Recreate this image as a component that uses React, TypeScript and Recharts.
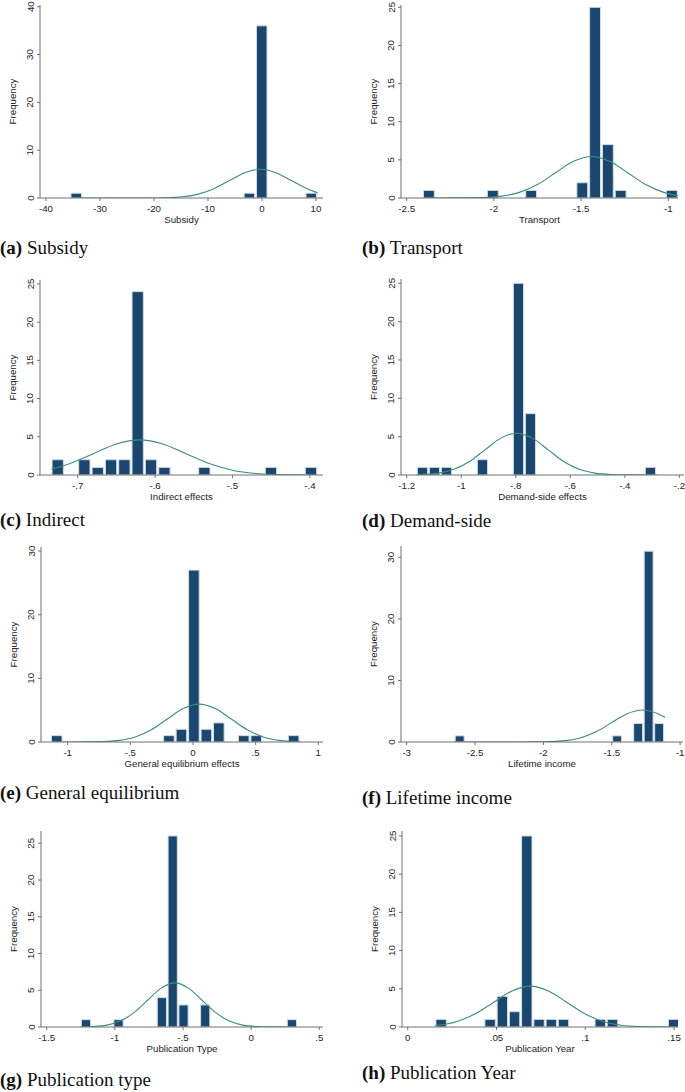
import React from "react";
import { ComposedChart, Bar, Line, XAxis, YAxis, Label } from "recharts";

const NAVY = "#1a476f";
const EDGE = "#d3dce5";
const GREEN = "#3b8d7b";
const AXIS = "#707070";
const INK = "#222";
const SANS = "'Liberation Sans', Arial, sans-serif";
const SERIF = "'Liberation Serif', 'Times New Roman', serif";

// (a) Subsidy
const subsidyBinWidth = 2.29;
const subsidyCenters = [-34.41, -2.35, -0.06, 9.1];
const subsidyCounts = [1, 1, 36, 1];
const subsidyCurveX = [-35.4, -23.3, -17.55, -14.675, -11.8, -8.925, -6.05, -3.175, -0.3, 2.575, 5.45, 8.325, 10.3];
const subsidyCurveY = [0, 0.002, 0.067, 0.26, 0.81, 1.95, 3.64, 5.29, 6.0, 5.29, 3.64, 1.95, 1.1];
const subsidyXTicks = [-40, -30, -20, -10, 0, 10];
const subsidyYTicks = [0, 10, 20, 30, 40];

// (b) Transport
const transportBinWidth = 0.0733;
const transportCenters = [-2.373, -2.0065, -1.7866, -1.4934, -1.4201, -1.3468, -1.2735, -0.98];
const transportCounts = [1, 1, 1, 2, 25, 7, 1, 1];
const transportCurveX = [-2.404, -2.061, -1.9575, -1.854, -1.7505, -1.647, -1.5435, -1.44, -1.3365, -1.233, -1.1295, -1.026, -0.945];
const transportCurveY = [0, 0.06, 0.24, 0.74, 1.77, 3.31, 4.81, 5.45, 4.81, 3.31, 1.77, 0.74, 0.31];
const transportXTicks = [-2.5, -2, -1.5, -1];
const transportYTicks = [0, 5, 10, 15, 20, 25];

// (c) Indirect
const indirectBinWidth = 0.01722;
const indirectCenters = [-0.7258, -0.6914, -0.6741, -0.6569, -0.6397, -0.6225, -0.6053, -0.588, -0.5364, -0.4503, -0.3986];
const indirectCounts = [2, 2, 1, 2, 2, 24, 2, 1, 1, 1, 1];
const indirectCurveX = [-0.7336, -0.71, -0.68, -0.65, -0.62, -0.59, -0.56, -0.53, -0.5, -0.47, -0.44, -0.41, -0.391];
const indirectCurveY = [0.77, 1.5, 2.79, 4.06, 4.6, 4.06, 2.79, 1.5, 0.62, 0.2, 0.05, 0.01, 0];
const indirectXTicks = [-0.7, -0.6, -0.5, -0.4];
const indirectYTicks = [0, 5, 10, 15, 20, 25];

// (d) Demand-side
const demandBinWidth = 0.044;
const demandCenters = [-1.1425, -1.0985, -1.0545, -0.9225, -0.7905, -0.7465, -0.3065];
const demandCounts = [1, 1, 1, 2, 25, 8, 1];
const demandCurveX = [-1.164, -1.0845, -1.027, -0.9695, -0.912, -0.8545, -0.797, -0.7395, -0.682, -0.6245, -0.567, -0.5095, -0.452, -0.3945, -0.282];
const demandCurveY = [0.03, 0.24, 0.74, 1.77, 3.31, 4.81, 5.45, 4.81, 3.31, 1.77, 0.74, 0.24, 0.06, 0.012, 0];
const demandXTicks = [-1.2, -1, -0.8, -0.6, -0.4, -0.2];
const demandYTicks = [0, 5, 10, 15, 20, 25];

// (e) General equilibrium
const geBinWidth = 0.0995;
const geCenters = [-1.0879, -0.1924, -0.0929, 0.0066, 0.1061, 0.2056, 0.4046, 0.5041, 0.8026];
const geCounts = [1, 1, 2, 27, 2, 3, 1, 1, 1];
const geCurveX = [-1.115, -0.715, -0.5875, -0.46, -0.3325, -0.205, -0.0775, 0.05, 0.1775, 0.305, 0.4325, 0.56, 0.6875, 0.815, 0.852];
const geCurveY = [0, 0.065, 0.26, 0.8, 1.93, 3.61, 5.25, 5.95, 5.25, 3.61, 1.93, 0.8, 0.26, 0.065, 0.04];
const geXTicks = [-1, -0.5, 0, 0.5, 1];
const geYTicks = [0, 10, 20, 30];

// (f) Lifetime income
const lifetimeBinWidth = 0.0768;
const lifetimeCenters = [-2.614, -1.4621, -1.3085, -1.2317, -1.1549];
const lifetimeCounts = [1, 1, 3, 31, 3];
const lifetimeCurveX = [-2.652, -2.2, -2.0, -1.8375, -1.725, -1.6125, -1.5, -1.3875, -1.275, -1.1625, -1.11];
const lifetimeCurveY = [0, 0.002, 0.03, 0.23, 0.7, 1.69, 3.16, 4.59, 5.2, 4.59, 3.97];
const lifetimeXTicks = [-3, -2.5, -2, -1.5, -1];
const lifetimeYTicks = [0, 10, 20, 30];

// (g) Publication type
const pubTypeBinWidth = 0.0795;
const pubTypeCenters = [-1.213, -0.9745, -0.6565, -0.577, -0.4975, -0.3385, 0.2975];
const pubTypeCounts = [1, 1, 4, 26, 3, 3, 1];
const pubTypeCurveX = [-1.25, -1.16, -1.06, -0.96, -0.86, -0.76, -0.66, -0.56, -0.46, -0.36, -0.26, -0.16, -0.06, 0.04, 0.14, 0.335];
const pubTypeCurveY = [0.016, 0.067, 0.26, 0.81, 1.95, 3.64, 5.29, 6.0, 5.29, 3.64, 1.95, 0.81, 0.26, 0.067, 0.013, 0];
const pubTypeXTicks = [-1.5, -1, -0.5, 0, 0.5];
const pubTypeYTicks = [0, 5, 10, 15, 20, 25];

// (h) Publication Year
const pubYearBinWidth = 0.00689;
const pubYearCenters = [0.01879, 0.04635, 0.05324, 0.06013, 0.06702, 0.07391, 0.0808, 0.08769, 0.10836, 0.11525, 0.1497];
const pubYearCounts = [1, 1, 4, 2, 25, 1, 1, 1, 1, 1, 1];
const pubYearCurveX = [0.0155, 0.02785, 0.038, 0.0485, 0.05875, 0.069, 0.07925, 0.0895, 0.09975, 0.11, 0.12025, 0.1305, 0.14075, 0.153];
const pubYearCurveY = [0.19, 0.72, 1.74, 3.25, 4.72, 5.35, 4.72, 3.25, 1.74, 0.72, 0.235, 0.06, 0.012, 0];
const pubYearXTicks = [0, 0.05, 0.1, 0.15];
const pubYearYTicks = [0, 5, 10, 15, 20, 25];

const panels = [
  { tag: "(a)", caption: "Subsidy", xLabel: "Subsidy", bin: subsidyBinWidth, centers: subsidyCenters, counts: subsidyCounts, cx: subsidyCurveX, cy: subsidyCurveY, xTicks: subsidyXTicks, yTicks: subsidyYTicks,
    left: 40, top: 5, right: 323, bottom: 198, xDomain: [-41.11, 11.296], yDomain: [0, 40.36], capX: 0, capY: 238 },
  { tag: "(b)", caption: "Transport", xLabel: "Transport", bin: transportBinWidth, centers: transportCenters, counts: transportCounts, cx: transportCurveX, cy: transportCurveY, xTicks: transportXTicks, yTicks: transportYTicks,
    left: 401, top: 5, right: 678, bottom: 198, xDomain: [-2.5327, -0.9444], yDomain: [0, 25.3], capX: 362, capY: 238 },
  { tag: "(c)", caption: "Indirect", xLabel: "Indirect effects", bin: indirectBinWidth, centers: indirectCenters, counts: indirectCounts, cx: indirectCurveX, cy: indirectCurveY, xTicks: indirectXTicks, yTicks: indirectYTicks,
    left: 40, top: 280, right: 323, bottom: 475, xDomain: [-0.7487, -0.3831], yDomain: [0, 25.52], capX: 0, capY: 510 },
  { tag: "(d)", caption: "Demand-side", xLabel: "Demand-side effects", bin: demandBinWidth, centers: demandCenters, counts: demandCounts, cx: demandCurveX, cy: demandCurveY, xTicks: demandXTicks, yTicks: demandYTicks,
    left: 401, top: 279, right: 684, bottom: 475, xDomain: [-1.2209, -0.1831], yDomain: [0, 25.56], capX: 362, capY: 511 },
  { tag: "(e)", caption: "General equilibrium", xLabel: "General equilibrium effects", bin: geBinWidth, centers: geCenters, counts: geCounts, cx: geCurveX, cy: geCurveY, xTicks: geXTicks, yTicks: geYTicks,
    left: 41, top: 547, right: 323, bottom: 742, xDomain: [-1.2131, 1.0375], yDomain: [0, 30.63], capX: 0, capY: 783 },
  { tag: "(f)", caption: "Lifetime income", xLabel: "Lifetime income", bin: lifetimeBinWidth, centers: lifetimeCenters, counts: lifetimeCounts, cx: lifetimeCurveX, cy: lifetimeCurveY, xTicks: lifetimeXTicks, yTicks: lifetimeYTicks,
    left: 401, top: 546, right: 683, bottom: 742, xDomain: [-3.0417, -0.9788], yDomain: [0, 31.84], capX: 362, capY: 788 },
  { tag: "(g)", caption: "Publication type", xLabel: "Publication Type", bin: pubTypeBinWidth, centers: pubTypeCenters, counts: pubTypeCounts, cx: pubTypeCurveX, cy: pubTypeCurveY, xTicks: pubTypeXTicks, yTicks: pubTypeYTicks,
    left: 41, top: 831, right: 323, bottom: 1027, xDomain: [-1.5418, 0.5271], yDomain: [0, 26.67], capX: 0, capY: 1070 },
  { tag: "(h)", caption: "Publication Year", xLabel: "Publication Year", bin: pubYearBinWidth, centers: pubYearCenters, counts: pubYearCounts, cx: pubYearCurveX, cy: pubYearCurveY, xTicks: pubYearXTicks, yTicks: pubYearYTicks,
    left: 402, top: 831, right: 678, bottom: 1027, xDomain: [-0.00321, 0.1522], yDomain: [0, 25.65], capX: 362, capY: 1063 },
];

// Stata style: -.7, .05
const fmt = (v: number) => String(Math.round(v * 1000) / 1000).replace(/^(-?)0\./, "$1.");

const YTick = (props: any) => {
  const { x, y, payload } = props;
  return (
    <text x={x} y={y} transform={`rotate(-90 ${x} ${y})`} textAnchor="middle" fill={INK} fontSize={9.7} fontFamily={SANS}>
      {payload.value}
    </text>
  );
};

const YW = 40;
const MT = 4;
const MR = 4;
const XH = 28;

const Histogram = ({ p }: { p: any }) => {
  const plotW = p.right - p.left;
  const plotH = p.bottom - p.top;
  const ppu = plotW / (p.xDomain[1] - p.xDomain[0]);
  const bars = p.centers.map((x: number, i: number) => ({ x, count: p.counts[i] }));
  const curve = p.cx.map((x: number, i: number) => ({ x, density: p.cy[i] }));
  return (
    <div style={{ position: "absolute", left: p.left - YW, top: p.top - MT }}>
      <ComposedChart width={plotW + YW + MR} height={plotH + MT + XH} data={bars} margin={{ top: MT, right: MR, bottom: 0, left: 0 }}>
        <XAxis type="number" dataKey="x" domain={p.xDomain} allowDataOverflow ticks={p.xTicks} interval={0}
          tickFormatter={fmt} height={XH} tickSize={3} tickMargin={4.5} stroke={AXIS}
          tick={{ fill: INK, fontSize: 9.7, fontFamily: SANS }}>
          <Label value={p.xLabel} position="insideBottom" offset={3} fill={INK} fontSize={9.7} fontFamily={SANS} />
        </XAxis>
        {/* separate hidden axis for the density curve so bar band size follows the bins only */}
        <XAxis xAxisId="curve" type="number" dataKey="x" domain={p.xDomain} allowDataOverflow hide />
        <YAxis type="number" domain={p.yDomain} allowDataOverflow ticks={p.yTicks} interval={0}
          width={YW} tickSize={3} tickMargin={3.5} stroke={AXIS} tick={YTick}>
          <Label value="Frequency" angle={-90} position="insideLeft" offset={13} fill={INK} fontSize={9.7} fontFamily={SANS}
            style={{ textAnchor: "middle" }} />
        </YAxis>
        <Bar dataKey="count" fill={NAVY} stroke={EDGE} strokeWidth={1} barSize={p.bin * ppu * 0.85} isAnimationActive={false} />
        <Line xAxisId="curve" data={curve} dataKey="density" type="monotone" stroke={GREEN} strokeWidth={1.1} dot={false} isAnimationActive={false} />
      </ComposedChart>
    </div>
  );
};

export default function App() {
  return (
    <div style={{ position: "absolute", left: 0, top: 0, width: 685, height: 1092, background: "#fff" }}>
      {panels.map((p) => (
        <React.Fragment key={p.tag}>
          <Histogram p={p} />
          <div style={{ position: "absolute", left: p.capX, top: p.capY, fontFamily: SERIF, fontSize: 19, lineHeight: "19px", color: "#111", whiteSpace: "nowrap" }}>
            <b>{p.tag}</b> {p.caption}
          </div>
        </React.Fragment>
      ))}
    </div>
  );
}
